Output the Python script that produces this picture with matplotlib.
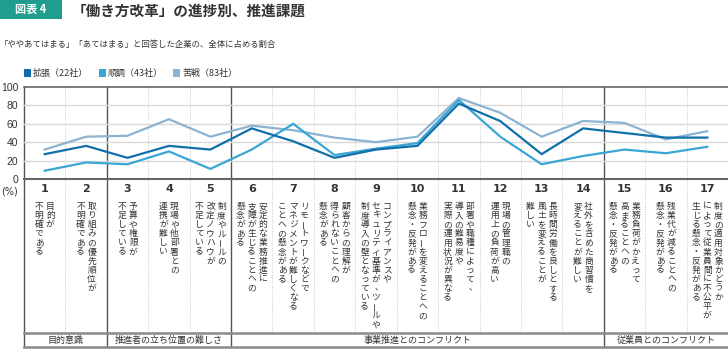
import matplotlib
matplotlib.use('Agg')
import matplotlib.pyplot as plt
from matplotlib.patches import Rectangle
import numpy as np

plt.rcParams['font.family'] = ['Noto Sans CJK JP', 'DejaVu Sans']

# ---- data ----
cats = [str(i) for i in range(1, 18)]
labels = [
    ['目的が', '不明確である'],
    ['取り組みの優先順位が', '不明確である'],
    ['予算や権限が', '不足している'],
    ['現場や他部署との', '連携が難しい'],
    ['制度やルールの', '改定ノウハウが', '不足している'],
    ['安定的な業務推進に', '支障が生じることへの', '懸念がある'],
    ['リモートワークなどで', 'マネジメントが難しくなる', 'ことへの懸念がある'],
    ['顧客からの理解が', '得られないことへの', '懸念がある'],
    ['コンプライアンスや', 'セキュリティ基準が、ツールや', '制度導入の壁となっている'],
    ['業務フローを変えることへの', '懸念・反発がある'],
    ['部署や職種によって、', '導入の難易度や', '実際の運用状況が異なる'],
    ['現場の管理職の', '運用上の負荷が高い'],
    ['長時間労働を良しとする', '風土を変えることが', '難しい'],
    ['社外を含めた商習慣を', '変えることが難しい'],
    ['業務負荷がかえって', '高まることへの', '懸念・反発がある'],
    ['残業代が減ることへの', '懸念・反発がある'],
    ['制度の適用対象かどうか', 'によって従業員間に不公平が', '生じる懸念・反発がある'],
]
groups = ['目的意識', '推進者の立ち位置の難しさ', '事業推進とのコンフリクト', '従業員とのコンフリクト']
group_sizes = [2, 3, 9, 3]

names = ['拡張（22社）', '順調（43社）', '苦戦（83社）']
kakuchou = [27, 36, 23, 36, 32, 55, 41, 23, 32, 36, 82, 63, 27, 55, 50, 45, 45]
junchou = [9, 18, 16, 30, 11, 32, 60, 26, 33, 39, 86, 46, 16, 25, 32, 28, 35]
kusen = [32, 46, 47, 65, 46, 58, 53, 45, 40, 46, 88, 72, 46, 63, 61, 43, 52]
colors = ['#1170aa', '#3aa6d5', '#8cb3d1']

W, H = 728, 353
left, top, bottom = 24, 87, 179
cw = (W - left) / 17.0

fig = plt.figure(figsize=(W / 100, H / 100), dpi=100)
ov = fig.add_axes([0, 0, 1, 1], zorder=0)
ov.set_xlim(0, W)
ov.set_ylim(H, 0)
ov.axis('off')

ax = fig.add_axes([left / W, (H - bottom) / H, (W - left) / W, (bottom - top) / H], zorder=2)
ax.patch.set_alpha(0)
ax.set_xlim(0, 17)
ax.set_ylim(0, 100)
for s in ax.spines.values():
    s.set_visible(False)
for g in [20, 40, 60, 80]:
    ax.axhline(g, color='#d9d9d9', lw=1, zorder=1)
ax.axhline(100, color='#666666', lw=1.2, zorder=1, clip_on=False)
ax.axhline(0, color='#666666', lw=1.5, zorder=1, clip_on=False)
ax.set_xticks([])
ax.set_yticks(range(0, 101, 20))
ax.tick_params(axis='y', length=0, pad=4, labelsize=7.5, labelcolor='#333333')
for lab in ax.get_yticklabels():
    lab.set_family('Liberation Sans')

x = np.arange(17) + 0.5
for vals, c in zip([kusen, junchou, kakuchou], colors[::-1]):
    ax.plot(x, vals, color=c, lw=1.6, zorder=3, solid_joinstyle='miter')

# ---- vertical boundaries ----
seps = np.cumsum(group_sizes)
for k in range(1, 17):
    bx = left + k * cw
    if k in seps:
        ov.plot([bx, bx], [top, 347], color='#555555', lw=1)
    else:
        ov.plot([bx, bx], [top, 333], color='#c8c8c8', lw=0.7, ls=(0, (1, 1.5)))
ov.plot([left, left], [top, 347], color='#555555', lw=1)
ov.plot([left, W], [333, 333], color='#8a8a8a', lw=1.8)
ov.plot([left, W], [347, 347], color='#8a8a8a', lw=1.8)

# ---- category numbers and vertical labels ----
pitch, colw = 9.1, 11.2
for i, (c, lines) in enumerate(zip(cats, labels)):
    cx = left + (i + 0.5) * cw
    ov.text(cx, 189, c, ha='center', va='center', fontsize=8, fontweight='bold',
            color='#333333', family='DejaVu Sans')
    n = len(lines)
    for j, line in enumerate(lines):
        lx = cx + (n - 1) / 2 * colw - j * colw
        for k, ch in enumerate(line):
            yc = 206.5 + k * pitch
            dx = 0
            rot = 90 if ch == 'ー' else 0
            if ch == '、':
                dx = 2.5
            ov.text(lx + dx, yc, ch, ha='center', va='center', fontsize=6.3,
                    rotation=rot, color='#333333')

# ---- group labels ----
start = 0
for g, n in zip(groups, group_sizes):
    gx = left + (start + n / 2) * cw
    ov.text(gx, 340, g, ha='center', va='center', fontsize=6.5, color='#333333')
    start += n

ov.text(9, 192, '(%)', ha='center', va='center', fontsize=7, color='#333333',
        family='DejaVu Sans')

# ---- title, subtitle, legend ----
ov.add_patch(Rectangle((0, 0), 62, 19, color='#1f9e8f', lw=0))
ov.text(31, 9.5, '図表 4', ha='center', va='center', fontsize=8, color='white',
        fontweight='bold')
ov.text(72, 11, '「働き方改革」の進捗別、推進課題', ha='left', va='center',
        fontsize=10.5, fontweight='bold', color='#333333')
ov.text(0, 45, '「ややあてはまる」「あてはまる」と回答した企業の、全体に占める割合',
        ha='left', va='center', fontsize=6, color='#333333')
for nm, c, lx in zip(names, colors, [24, 99, 173]):
    ov.add_patch(Rectangle((lx, 69), 7, 8, color=c, lw=0))
    ov.text(lx + 9, 73, nm, ha='left', va='center', fontsize=6.5, color='#333333')

fig.savefig('out.png', dpi=100)
